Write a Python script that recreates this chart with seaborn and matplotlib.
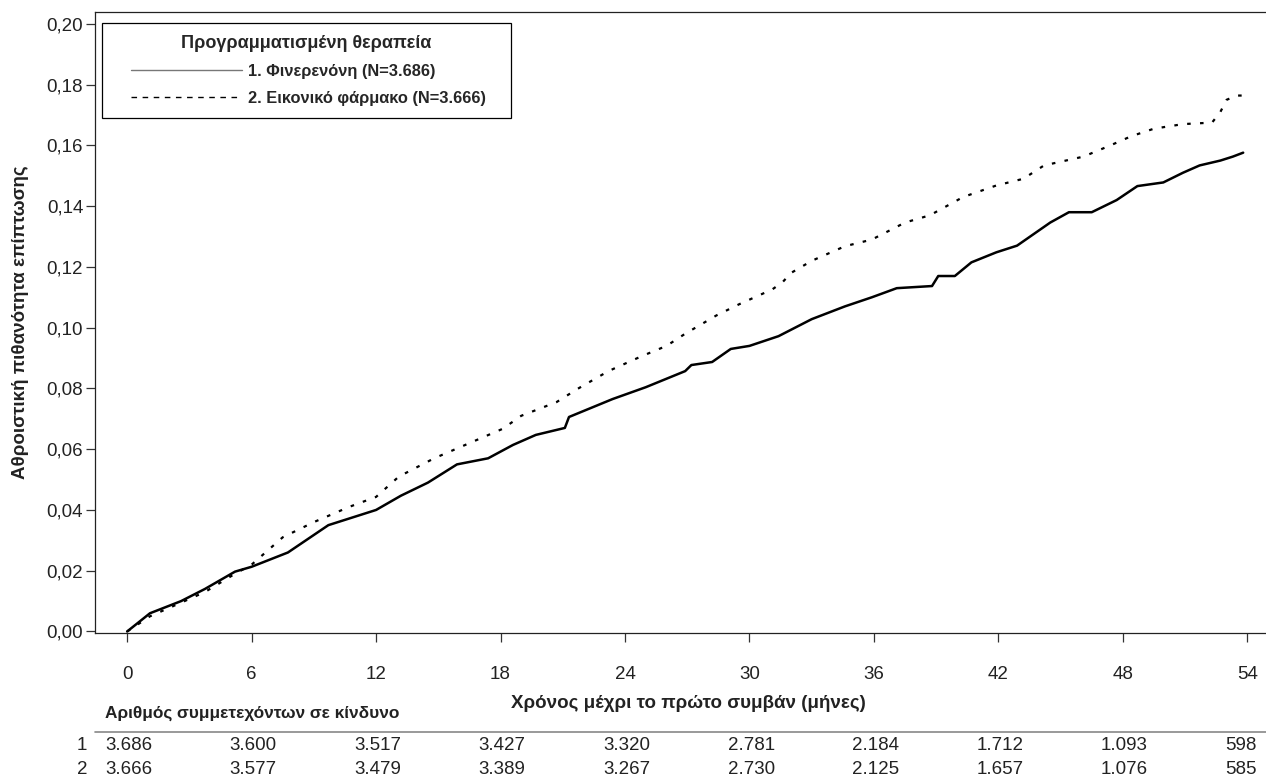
import numpy as np
import pandas as pd
import seaborn as sns
import matplotlib.pyplot as plt
from matplotlib.lines import Line2D
from matplotlib.legend_handler import HandlerLine2D
from matplotlib.ticker import FuncFormatter
import matplotlib.transforms as mtransforms

# cumulative incidence (months, probability)
fin_months = [0, 1.1, 2.6, 3.75, 5.2, 6, 7.75, 9.7, 12, 13.2, 14.5, 15.9, 17.4, 18.6, 19.7,
              21.1, 21.3, 23.4, 25, 26.9, 27.2, 28.2, 29.1, 30, 31.4, 33, 34.6, 35.9, 37.1,
              38.8, 39.1, 39.9, 40.7, 41.9, 42.9, 44.5, 45.4, 46.5, 47.7, 48.7, 49.95, 50.9,
              51.7, 52.7, 53.3, 53.8]
fin_values = [0, .006, .010, .014, .0197, .0213, .026, .035, .040, .0447, .049, .055, .057,
              .0614, .0647, .067, .0706, .0765, .0804, .0857, .0877, .0887, .093, .094, .0972,
              .1028, .107, .110, .113, .1137, .117, .117, .1215, .1248, .127, .1346, .138, .138,
              .142, .1466, .1478, .151, .1534, .155, .1563, .1576]

pla_months = [0, 1.1, 2.6, 3.75, 5.2, 6, 7.5, 9, 10.7, 12, 13.1, 14.8, 16.4, 18.1, 19, 20.7,
              21.7, 23.2, 24.8, 26, 26.9, 28.4, 29.5, 31.1, 31.6, 32, 33, 34.6, 35.9, 37.5,
              38.7, 40.3, 41.9, 43.2, 44.2, 46.1, 47.4, 48.4, 49.5, 50.9, 52.3, 52.7, 53, 53.5, 54]
pla_values = [0, .005, .0095, .013, .019, .022, .031, .036, .041, .0443, .051, .057, .0617,
              .0667, .071, .0755, .0798, .0857, .0906, .094, .098, .104, .1077, .1126, .115,
              .118, .122, .1268, .129, .1346, .137, .143, .1468, .149, .1534, .1563, .160, .163,
              .1655, .167, .1675, .171, .175, .1764, .1764]

x_ticks = [0, 6, 12, 18, 24, 30, 36, 42, 48, 54]
y_ticks = [0.00, 0.02, 0.04, 0.06, 0.08, 0.10, 0.12, 0.14, 0.16, 0.18, 0.20]
risk_fin = [3686, 3600, 3517, 3427, 3320, 2781, 2184, 1712, 1093, 598]
risk_pla = [3666, 3577, 3479, 3389, 3267, 2730, 2125, 1657, 1076, 585]

lbl_fin = '1. Φινερενόνη (N=3.686)'
lbl_pla = '2. Εικονικό φάρμακο (N=3.666)'

sns.set_style('ticks')
plt.rcParams['font.family'] = ['Liberation Sans', 'DejaVu Sans']
txt = '#222222'

fig = plt.figure(figsize=(12.66, 7.78), dpi=100)
ax = fig.add_axes([95 / 1266, 1 - 633 / 778, 1 - 95 / 1266, 621 / 778])

df_fin = pd.DataFrame({'month': fin_months, 'p': fin_values})
df_pla = pd.DataFrame({'month': pla_months, 'p': pla_values})
sns.lineplot(data=df_fin, x='month', y='p', color='black', linewidth=1.8, ax=ax,
             estimator=None, sort=False)
sns.lineplot(data=df_pla, x='month', y='p', color='black', linewidth=1.6, ax=ax,
             estimator=None, sort=False, linestyle=(0, (1.6, 4.2)))

ax.set_xlim(-1.55, 54.9)
ax.set_ylim(-0.0005, 0.2039)
ax.set_xticks(x_ticks)
ax.set_yticks(y_ticks)
ax.yaxis.set_major_formatter(FuncFormatter(lambda v, p: f'{v:.2f}'.replace('.', ',')))
ax.tick_params(axis='both', labelsize=13.5, length=6.5, width=0.9, color='#333333',
               direction='out', labelcolor=txt)
ax.tick_params(axis='x', pad=17)
ax.tick_params(axis='y', pad=2)
for s in ['left', 'bottom', 'top']:
    ax.spines[s].set_linewidth(0.9)
    ax.spines[s].set_color(txt)
ax.spines['right'].set_visible(False)
ax.spines['top'].set_visible(True)

ax.set_xlabel('')
ax.set_ylabel('Αθροιστική πιθανότητα επίπτωσης', fontsize=13.5, fontweight='bold', color=txt)
ax.yaxis.set_label_coords(-66 / 1171, 0.5)

handles = [Line2D([], [], color='#777777', lw=1.0),
           Line2D([], [], color='black', lw=1.0, linestyle=(0, (4, 4)))]
leg = ax.legend(handles, [lbl_fin, lbl_pla], title='Προγραμματισμένη θεραπεία',
                loc='upper left', bbox_to_anchor=(7 / 1171, 1 - 11 / 621, 409 / 1171, 0),
                mode='expand', borderaxespad=0,
                frameon=True, fancybox=False, edgecolor='black', framealpha=1,
                prop={'weight': 'bold', 'size': 11.8},
                title_fontproperties={'weight': 'bold', 'size': 13},
                handler_map={Line2D: HandlerLine2D(xpad=1.0)},
                handlelength=7.8, handletextpad=0.35, labelspacing=0.72, borderpad=0.75)
leg.get_frame().set_linewidth(0.9)

fig.text(688 / 1266, 1 - 703 / 778, 'Χρόνος μέχρι το πρώτο συμβάν (μήνες)', ha='center',
         va='center', fontsize=13.5, fontweight='bold', color=txt)
fig.text(105 / 1266, 1 - 713 / 778, 'Αριθμός συμμετεχόντων σε κίνδυνο', ha='left',
         va='center', fontsize=12.4, fontweight='bold', color=txt)
fig.add_artist(Line2D([95 / 1266, 1], [1 - 732 / 778] * 2, color='#888888', lw=1.2))

trans = mtransforms.blended_transform_factory(ax.transData, fig.transFigure)
for row, (name, counts) in enumerate([('1', risk_fin), ('2', risk_pla)]):
    yy = 1 - (746 + row * 23) / 778
    fig.text(87 / 1266, yy, name, ha='right', va='center', fontsize=13.5, color=txt)
    for t, n in zip(x_ticks, counts):
        ax.text(t - 1.05, yy, f'{n:,}'.replace(',', '.'), transform=trans, ha='left',
                va='center', fontsize=13.5, color=txt, clip_on=False)

fig.savefig('out.png', dpi=100)
